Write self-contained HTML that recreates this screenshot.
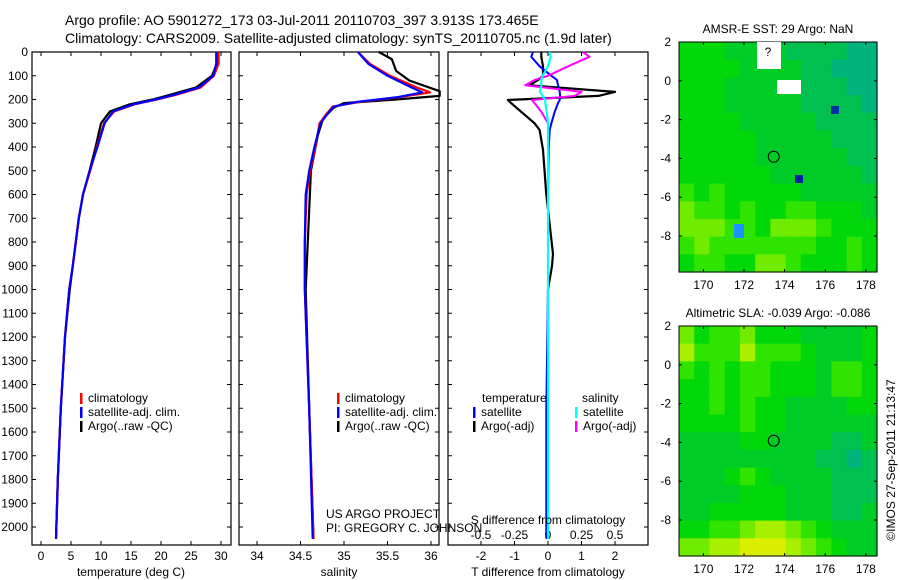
<!DOCTYPE html>
<html><head><meta charset="utf-8">
<style>
body{margin:0;background:#fff;}
svg{display:block;font-family:"Liberation Sans",sans-serif;}
</style></head>
<body>
<svg id="fig" width="900" height="580" viewBox="0 0 900 580">
<text x="65" y="25" font-size="14">Argo profile: AO 5901272_173 03-Jul-2011 20110703_397 3.913S 173.465E</text>
<text x="65" y="43" font-size="14">Climatology: CARS2009. Satellite-adjusted climatology: synTS_20110705.nc (1.9d later)</text>
<g id="g"></g>
<text transform="translate(895,460) rotate(-90)" font-size="12" text-anchor="middle">©IMOS 27-Sep-2011 21:13:47</text>
</svg>
<script>
// ---------- data ----------
const depthTicks=[0,100,200,300,400,500,600,700,800,900,1000,1100,1200,1300,1400,1500,1600,1700,1800,1900,2000];
const tTicks=[0,5,10,15,20,25,30];
const sTicks=[34,34.5,35,35.5,36];
const dTTicks=[-2,-1,0,1,2];
const dSTicks=[-0.5,-0.25,0,0.25,0.5];
const dSTickLabels=["-0.5","-0.25","0","0.25","0.5"];
const depths=[0,50,100,150,180,200,220,250,300,400,500,600,700,800,900,1000,1200,1500,1800,2050];
const tempClim=[29.6,29.6,28.8,26.6,22.5,19.3,15.6,12.2,10.5,9.3,8.2,7.0,6.3,5.8,5.3,4.7,4.0,3.3,2.8,2.5];
const tempSat=[29.2,29.2,28.7,26.3,22.2,19.1,15.4,12.0,10.6,9.4,8.1,7.0,6.3,5.8,5.3,4.7,4.0,3.3,2.8,2.5];
const tempArgo=[29.3,29.3,28.5,25.8,21.5,18.6,14.8,11.5,10.0,9.1,8.1,7.0,6.3,5.8,5.3,4.8,4.0,3.3,2.8,2.5];
const salDepths=[0,50,100,150,170,190,210,230,260,300,400,500,600,800,1000,1500,2050];
const salClim=[35.16,35.3,35.53,35.84,35.99,35.64,35.18,34.87,34.8,34.72,34.67,34.61,34.57,34.55,34.55,34.6,34.65];
const salSat=[35.16,35.28,35.5,35.78,35.9,35.62,35.15,34.88,34.81,34.73,34.66,34.6,34.56,34.55,34.55,34.6,34.64];
const salArgoDepths=[0,30,80,120,165,185,200,215,235,280,350,500,1000,1500,2050];
const salArgo=[35.4,35.55,35.6,35.75,36.1,36.1,35.6,35.0,34.88,34.76,34.7,34.62,34.56,34.6,34.65];
const dDepths=[0,20,60,100,118,140,168,185,202,215,252,300,328,412,600,850,900,1000,1500,2050];
const dTSat=[-0.45,-0.5,-0.25,0.1,0.27,0.3,0.35,0.36,0.35,0.3,0.2,0.1,0.05,0.02,0,0,0,0,-0.05,-0.05];
const dTArgo=[-0.2,-0.2,-0.15,-0.15,-0.3,-0.55,2.0,1.5,-1.2,-1.1,-0.8,-0.4,-0.25,-0.15,-0.05,0.15,0.12,0,0,0];
const dSSat=[0.01,0.02,0.0,-0.04,-0.05,-0.05,-0.06,-0.04,-0.02,-0.02,-0.01,0,0,0,0,0,0,0,0,0];
const dSArgo=[0.26,0.31,0.15,0.0,-0.1,-0.17,0.25,0.2,-0.12,-0.1,-0.05,0,0,0,0,0,0,0,0,0];
// map data (colour indices, rows north->south)
const palette=["#00b47c","#00c050","#00cc28","#00d80a","#30e400","#70ec00","#a8f000","#dcee00"];
const sstGrid=[
"3332222111100",
"3333222211000",
"3332222211100",
"3332222211110",
"3333222221111",
"3333322222111",
"3333322222211",
"3333332222221",
"4343333322222",
"5443433443332",
"5554435554333",
"4544444443343",
"3443355433343"];
const slaGrid=[
"5344533322223",
"6444644432223",
"4343443332443",
"3343443332443",
"3343433222233",
"3333433222222",
"2222332222112",
"2222222221101",
"2223432222111",
"2222333222111",
"2233333222112",
"3344566543222",
"5566777654322"];
const mapLonTicks=[170,172,174,176,178];
const map1LatTicks=[2,0,-2,-4,-6,-8];
const map2LatTicks=[2,0,-2,-4,-6,-8];
const argoLon=173.465, argoLat=-3.913;

// ---------- helpers ----------
const NS="http://www.w3.org/2000/svg";
const G=document.getElementById('g');
function mk(tag,at,parent){const e=document.createElementNS(NS,tag);for(const k in at)e.setAttribute(k,at[k]);(parent||G).appendChild(e);return e;}
const TOP=52,BOT=545;
const yD=d=>TOP+d*0.2375;

function panel(x0,x1,name){
  const r=mk('rect',{x:x0,y:TOP,width:x1-x0,height:BOT-TOP,fill:'none',stroke:'#000','stroke-width':1.2});
  
  
  depthTicks.forEach(d=>{mk('line',{x1:x0,x2:x0+4,y1:yD(d),y2:yD(d),stroke:'#000'});mk('line',{x1:x1,x2:x1-4,y1:yD(d),y2:yD(d),stroke:'#000'});});
}
function xticks(ticks,labels,fx,y,cls,top){
  ticks.forEach((t,i)=>{const x=fx(t);
    if(top!==false){mk('line',{x1:x,x2:x,y1:TOP,y2:TOP+4,stroke:'#000'});}
    mk('line',{x1:x,x2:x,y1:BOT,y2:BOT-4,stroke:'#000'});
    const tx=mk('text',{x:x,y:y,'font-size':12,'text-anchor':'middle'});tx.textContent=labels[i];
    
    });
}
function line(xs,ds,fx,color,w,name){
  const pts=xs.map((v,i)=>fx(v).toFixed(1)+','+yD(ds[i]).toFixed(1)).join(' ');
  const p=mk('polyline',{points:pts,fill:'none',stroke:color,'stroke-width':w,'stroke-linejoin':'round'});
  
  
}
function txt(x,y,s,name,size,anchor){const t=mk('text',{x:x,y:y,'font-size':size||12,'text-anchor':anchor||'start'});t.textContent=s;
  
  return t;}
function legend(x,y,color,label,name){mk('rect',{x:x,y:y-9,width:2.5,height:11,fill:color});txt(x+8,y,label,name);}

// ---------- panel 1: temperature ----------
const xT=t=>41+6*t;
panel(32,231,'temperature-panel');
depthTicks.forEach(d=>txt(28,yD(d)+4,String(d),'depth-tick-label',12,'end'));
xticks(tTicks,tTicks.map(String),xT,560,'temperature');
line(tempArgo,depths,xT,'#000',2.2,'temp-argo-line');
line(tempClim,depths,xT,'#f00',2.2,'temp-climatology-line');
line(tempSat,depths,xT,'#00f',2.2,'temp-satellite-line');
txt(131,576,'temperature (deg C)','temperature-axis-title',12,'middle');
legend(80,402,'#f00','climatology','legend-climatology');
legend(80,416,'#00f','satellite-adj. clim.','legend-satellite');
legend(80,430,'#000','Argo(..raw -QC)','legend-argo');

// ---------- panel 2: salinity ----------
const xS=s=>257+87*(s-34);
panel(239,439,'salinity-panel');
xticks(sTicks,sTicks.map(String),xS,560,'salinity');
line(salArgo,salArgoDepths,xS,'#000',2.2,'sal-argo-line');
line(salClim,salDepths,xS,'#f00',2.2,'sal-climatology-line');
line(salSat,salDepths,xS,'#00f',2.2,'sal-satellite-line');
txt(339,576,'salinity','salinity-axis-title',12,'middle');
legend(337,402,'#f00','climatology','legend-climatology-2');
legend(337,416,'#00f','satellite-adj. clim.','legend-satellite-2');
legend(337,430,'#000','Argo(..raw -QC)','legend-argo-2');
txt(326,518,'US ARGO PROJECT','us-argo-project-label');
txt(326,532,'PI: GREGORY C. JOHNSON','pi-label');

// ---------- panel 3: differences ----------
const xDT=v=>548+33.5*v;
const xDS=v=>548+134*v;
panel(448,648,'difference-panel');
xticks(dTTicks,dTTicks.map(String),xDT,560,'t-diff');
dSTicks.forEach((t,i)=>{txt(xDS(t),539,dSTickLabels[i],'s-diff-tick-label',12,'middle');});
line(dTArgo,dDepths,xDT,'#000',2.2,'t-diff-argo-line');
line(dTSat,dDepths,xDT,'#00f',2,'t-diff-satellite-line');
line(dSArgo,dDepths,xDS,'#f0f',2,'s-diff-argo-line');
line(dSSat,dDepths,xDS,'#0ff',2.2,'s-diff-satellite-line');
txt(548,576,'T difference from climatology','t-diff-axis-title',12,'middle');
txt(548,524,'S difference from climatology','s-diff-axis-title',12,'middle');
txt(482,402,'temperature','legend-temperature-heading');
txt(582,402,'salinity','legend-salinity-heading');
legend(473,416,'#00f','satellite','legend-t-satellite');
legend(473,430,'#000','Argo(-adj)','legend-t-argo');
legend(575,416,'#0ff','satellite','legend-s-satellite');
legend(575,430,'#f0f','Argo(-adj)','legend-s-argo');

// ---------- maps ----------
function drawMap(grid,x0,x1,y0,y1,latTicks,name,title){
  const lon0=168.8,lon1=178.55, lat0=2.0;
  const fx=l=>x0+(l-lon0)/(lon1-lon0)*(x1-x0);
  const fy=la=>y0+(lat0-la)*19.4;
  const rows=grid.length,cols=grid[0].length;
  const cw=(x1-x0)/cols,ch=(y1-y0)/rows;
  for(let r=0;r<rows;r++)for(let c=0;c<cols;c++){
    const cell=mk('rect',{x:x0+c*cw,y:y0+r*ch,width:cw+0.6,height:ch+0.6,fill:palette[+grid[r][c]]});
    
    
  }
  const fr=mk('rect',{x:x0,y:y0,width:x1-x0,height:y1-y0,fill:'none',stroke:'#000'});
  
  
  mapLonTicks.forEach(l=>{const x=fx(l);mk('line',{x1:x,x2:x,y1:y0,y2:y0+3,stroke:'#000'});mk('line',{x1:x,x2:x,y1:y1,y2:y1-3,stroke:'#000'});
    txt(x,y1+17,String(l),name+'-lon-label',12,'middle');});
  latTicks.forEach(la=>{const y=fy(la);mk('line',{x1:x0,x2:x0+3,y1:y,y2:y,stroke:'#000'});mk('line',{x1:x1,x2:x1-3,y1:y,y2:y,stroke:'#000'});
    txt(x0-8,y+4,String(la),name+'-lat-label',12,'end');});
  const c=mk('circle',{cx:fx(argoLon),cy:fy(argoLat),r:5.5,fill:'none',stroke:'#000'});
  
  
  txt((x0+x1)/2,y0-9,title,name+'-title',12,'middle');
  return {fx,fy};
}
const m1=drawMap(sstGrid,679,877,42,272,map1LatTicks,'sst-map','AMSR-E SST: 29 Argo: NaN');
mk('rect',{x:757,y:42,width:24,height:27,fill:'#fff'});
mk('rect',{x:777,y:80,width:24,height:14,fill:'#fff'});
mk('rect',{x:831,y:106,width:8,height:8,fill:'#0030a0'});
mk('rect',{x:795,y:175,width:8,height:8,fill:'#0020a0'});
mk('rect',{x:734,y:224,width:10,height:14,fill:'#1e90ff'});
txt(768,56,'?','sst-map-island-mark',12,'middle');
const m2=drawMap(slaGrid,679,877,326,556,map2LatTicks,'sla-map','Altimetric SLA: -0.039 Argo: -0.086');
</script>
</body></html>
